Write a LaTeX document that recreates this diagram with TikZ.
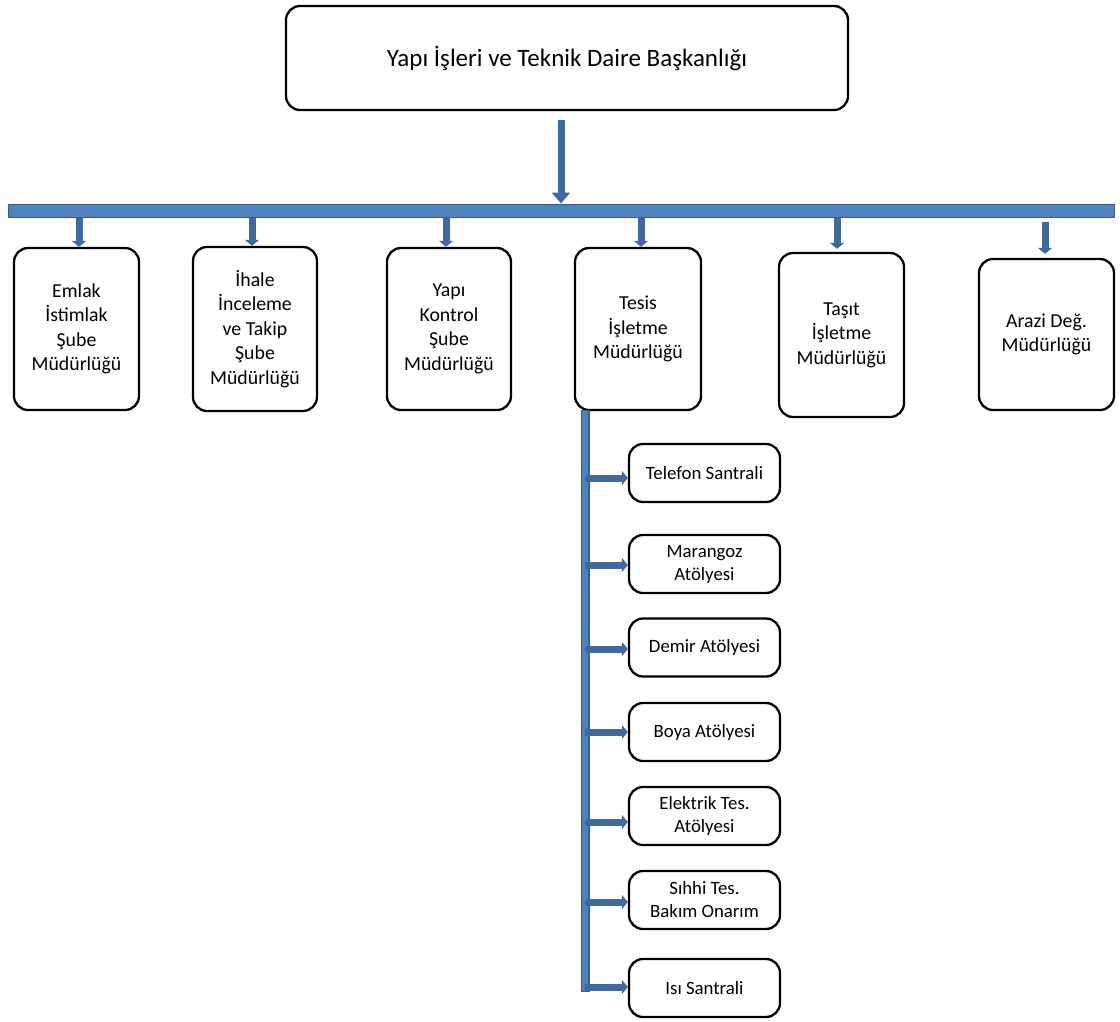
\documentclass[tikz,border=0pt]{standalone}
\usepackage{fontspec}
\setmainfont{Carlito}
\usetikzlibrary{arrows.meta,calc}
\definecolor{barfill}{RGB}{79,129,189}
\definecolor{barline}{RGB}{56,93,138}
\definecolor{arrcol}{RGB}{65,105,155}
\tikzset{
  box/.style={draw=black, line width=2.3pt, rounded corners=14pt, fill=white, align=center, inner sep=0pt},
  bigbox/.style={box, font=\fontsize{19.8}{24.5}\selectfont},
  subbox/.style={box, minimum width=151pt, minimum height=58pt, font=\fontsize{18.8}{23}\selectfont},
  arr/.style={draw=arrcol, line width=7pt, -{Triangle[width=14pt,length=6pt]}},
  mainarr/.style={draw=arrcol, line width=7pt, -{Triangle[width=18pt,length=11pt]}},
  bar/.style={draw=barline, fill=barfill, line width=1pt, inner sep=0pt},
}
\begin{document}
\begin{tikzpicture}[x=1pt,y=-1pt]
\useasboundingbox (0,0) rectangle (1120,1021);
% top
\node[box, minimum width=562pt, minimum height=104pt, font=\fontsize{25}{30}\selectfont] (top) at (567,58) {Yapı İşleri ve Teknik Daire Başkanlığı};
% bar
\node[bar, minimum width=1106pt, minimum height=13pt] (bar) at (561,210.5) {};
% main arrow
\coordinate (a0) at (561,120);
\draw[mainarr] (a0) -- (a0 |- bar.north);
% first-level boxes
\node[bigbox, minimum width=125pt, minimum height=162pt] (b1) at (76.5,329) {Emlak\\İstimlak\\Şube\\Müdürlüğü};
\node[bigbox, minimum width=124pt, minimum height=164pt] (b2) at (255,329) {İhale\\İnceleme\\ve Takip\\Şube\\Müdürlüğü};
\node[bigbox, minimum width=124pt, minimum height=162pt] (b3) at (449,329) {Yapı\\Kontrol\\Şube\\Müdürlüğü};
\node[bigbox, minimum width=126pt, minimum height=162pt] (b4) at (638,329) {Tesis\\İşletme\\Müdürlüğü};
\node[bigbox, minimum width=125pt, minimum height=164pt] (b5) at (841.5,335) {Taşıt\\İşletme\\Müdürlüğü};
\node[bigbox, minimum width=135pt, minimum height=151pt] (b6) at (1046.5,334.5) {Arazi Değ.\\Müdürlüğü};
% arrows from bar
\coordinate (c1) at (79,0);
\coordinate (c2) at (252,0);
\coordinate (c3) at (446,0);
\coordinate (c4) at (641,0);
\coordinate (c5) at (837,0);
\coordinate (c6) at (1045,222);
\draw[arr] (c1 |- bar.south) -- (c1 |- b1.north);
\draw[arr] (c2 |- bar.south) -- (c2 |- b2.north);
\draw[arr] (c3 |- bar.south) -- (c3 |- b3.north);
\draw[arr] (c4 |- bar.south) -- (c4 |- b4.north);
\draw[arr] (c5 |- bar.south) -- ([yshift=3pt]c5 |- b5.north);
\draw[arr] (c6) -- ([yshift=4pt]c6 |- b6.north);
% sub boxes
\node[subbox] (s1) at (704.5,473) {Telefon Santrali};
\node[subbox] (s2) at (704.5,564) {Marangoz\\Atölyesi};
\node[subbox] (s3) at (704.5,647.5) {Demir Atölyesi};
\node[subbox] (s4) at (704.5,732) {Boya Atölyesi};
\node[subbox] (s5) at (704.5,816) {Elektrik Tes.\\Atölyesi};
\node[subbox] (s6) at (704.5,900) {Sıhhi Tes.\\Bakım Onarım};
\node[subbox] (s7) at (704.5,988) {Isı Santrali};
% trunk
\coordinate (t0) at (585,410);
\coordinate (t1) at (585,992);
\draw[barline, line width=9pt] (t0) -- (t1);
\draw[barfill, line width=6.5pt, shorten <=1pt, shorten >=1pt] (t0) -- (t1);
% branches
\draw[arr] (t0 |- s1.west) ++(0,5) -- ([yshift=-5pt]s1.west);
\draw[arr] (t0 |- s2.west) ++(0,1) -- ([yshift=-1pt]s2.west);
\draw[arr] (t0 |- s3.west) ++(0,1.5) -- ([yshift=-1.5pt]s3.west);
\draw[arr] (t0 |- s4.west) -- (s4.west);
\draw[arr] (t0 |- s5.west) ++(0,6) -- ([yshift=-6pt]s5.west);
\draw[arr] (t0 |- s6.west) ++(0,2) -- ([yshift=-2pt]s6.west);
\draw[arr] (t0 |- s7.west) ++(0,-1) -- ([yshift=1pt]s7.west);
\end{tikzpicture}
\end{document}
